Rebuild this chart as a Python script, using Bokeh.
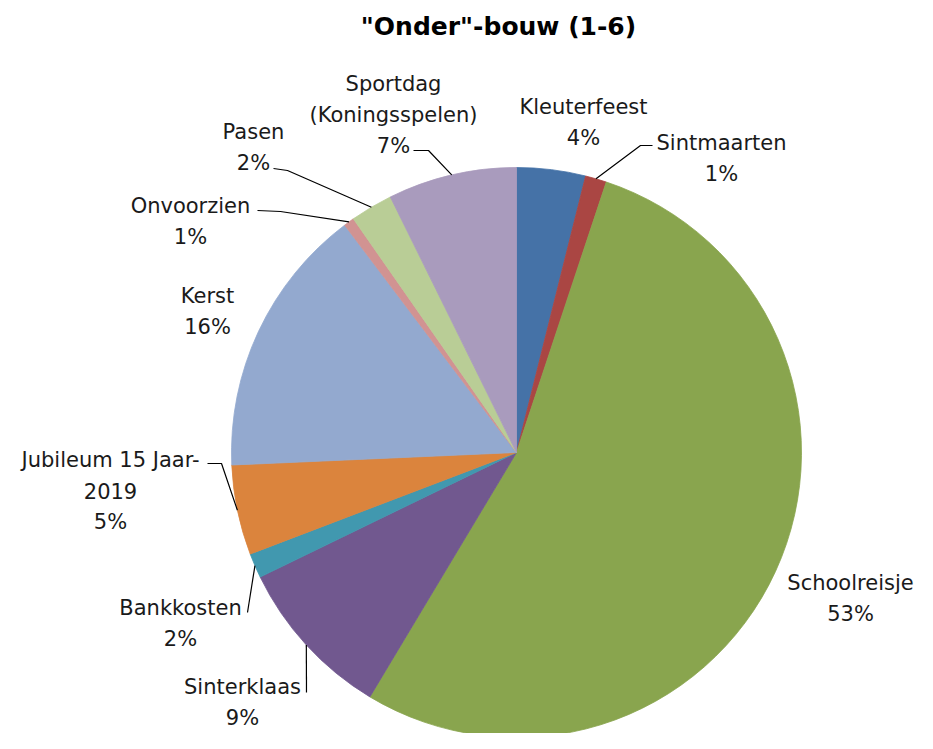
import math
from bokeh.plotting import figure
from bokeh.models import Range1d, ColumnDataSource
from bokeh.core.properties import value
from bokeh.embed import file_html
from bokeh.resources import INLINE

# ---------------- data ----------------
title_text = '"Onder"-bouw (1-6)'
categories = ["Kleuterfeest", "Sintmaarten", "Schoolreisje", "Sinterklaas", "Bankkosten",
              "Jubileum 15 Jaar-2019", "Kerst", "Onvoorzien", "Pasen", "Sportdag (Koningsspelen)"]
values = [3.9, 1.2, 53.5, 9.2, 1.4, 5.1, 15.4, 0.6, 2.4, 7.3]
pct_labels = ["4%", "1%", "53%", "9%", "2%", "5%", "16%", "1%", "2%", "7%"]
name_lines = [["Kleuterfeest"], ["Sintmaarten"], ["Schoolreisje"], ["Sinterklaas"], ["Bankkosten"],
              ["Jubileum 15 Jaar-", "2019"], ["Kerst"], ["Onvoorzien"], ["Pasen"],
              ["Sportdag", "(Koningsspelen)"]]
colors = ["#4572A7", "#AA4643", "#89A54E", "#71588F", "#4198AF",
          "#DB843D", "#93A9CF", "#D19392", "#B9CD96", "#A99BBD"]

# ---------------- layout (picture pixel coords) ----------------
CX, CY, R = 516, 452, 285
LINE_H = 31
# label anchor: centre x, centre y of first line
label_pos = [(583, 106), (721, 142), (850, 582), (242, 686), (180, 607),
             (110, 459), (207, 295), (190, 205), (253, 131), (393, 83)]
# leader line label-side points (None = no leader)
leader_pts = [None, [(652, 145), (640, 145)], None, [(306, 692)], [(247, 612)],
              [(207, 463), (221, 463)], None, [(257, 210), (280, 211)],
              [(273, 168), (287, 170)], [(413, 150), (428, 150)]]

FONT = "DejaVu Sans"
FS = "21px"

p = figure(width=917, height=733, output_backend="svg", toolbar_location=None,
           x_axis_type=None, y_axis_type=None,
           x_range=Range1d(0, 917), y_range=Range1d(-733, 0),
           min_border=0, min_border_left=0, min_border_right=0,
           min_border_top=0, min_border_bottom=0)
p.outline_line_color = None
p.grid.visible = False
p.background_fill_color = "white"
p.border_fill_color = "white"

total = sum(values)
cum = 0.0
starts, ends, mids = [], [], []
for v in values:
    a0 = math.pi / 2 - 2 * math.pi * cum / total
    cum += v
    a1 = math.pi / 2 - 2 * math.pi * cum / total
    starts.append(a0)
    ends.append(a1)
    mids.append((a0 + a1) / 2)

src = ColumnDataSource(dict(start=starts, end=ends, color=colors, cat=categories, val=values))
p.wedge(x=CX, y=-CY, radius=R, start_angle="start", end_angle="end", direction="clock",
        fill_color="color", line_color="color", line_width=0.8, source=src)

# leader lines
xs, ys = [], []
for i, pts in enumerate(leader_pts):
    if pts is None:
        continue
    ex = CX + R * math.cos(mids[i])
    ey = CY - R * math.sin(mids[i])
    lx = [q[0] for q in pts] + [ex]
    ly = [-q[1] for q in pts] + [-ey]
    xs.append(lx)
    ys.append(ly)
p.multi_line(xs=xs, ys=ys, line_color="#000000", line_width=1.2)

# labels
tx, ty, tt = [], [], []
for i, lines in enumerate(name_lines):
    x0, y0 = label_pos[i]
    all_lines = lines + [pct_labels[i]]
    for k, s in enumerate(all_lines):
        tx.append(x0)
        ty.append(-(y0 + k * LINE_H))
        tt.append(s)
p.text(x=tx, y=ty, text=tt, text_align="center", text_baseline="middle",
       text_font=value(FONT), text_font_size=FS, text_color="#1a1a1a")

p.text(x=[498], y=[-26], text=[title_text], text_align="center", text_baseline="middle",
       text_font=value(FONT), text_font_size="25px", text_font_style="bold", text_color="#000000")

open("out.html", "w").write(file_html(p, INLINE))
